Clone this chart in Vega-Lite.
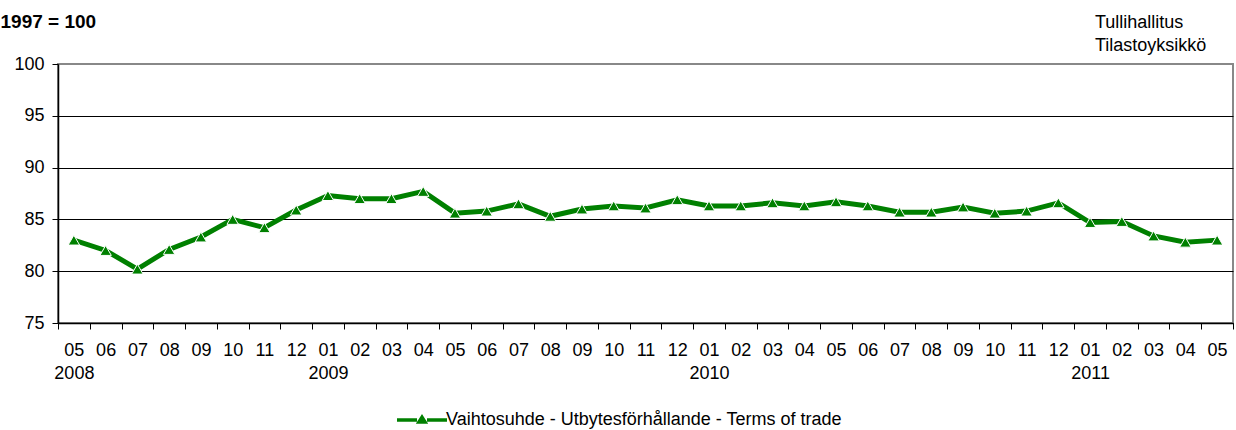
{
  "$schema": "https://vega.github.io/schema/vega-lite/v6.json",
  "width": 1175,
  "height": 259,
  "autosize": {"type": "none"},
  "padding": {"left": 58, "top": 64, "right": 3, "bottom": 107},
  "background": "white",
  "config": {
    "font": "Liberation Sans",
    "view": {"stroke": "#888888", "strokeWidth": 2}
  },
  "title": {
    "text": ["Tullihallitus", "Tilastoyksikkö"],
    "anchor": "end",
    "frame": "group",
    "align": "left",
    "baseline": "top",
    "dx": -138,
    "fontSize": 18,
    "fontWeight": "normal",
    "lineHeight": 23,
    "color": "#000000",
    "offset": 0,
    "dy": 43
  },
  "data": {
    "values": [
      {"month": "2008-05", "value": 83.0},
      {"month": "2008-06", "value": 82.0},
      {"month": "2008-07", "value": 80.2},
      {"month": "2008-08", "value": 82.1},
      {"month": "2008-09", "value": 83.3},
      {"month": "2008-10", "value": 85.0},
      {"month": "2008-11", "value": 84.2},
      {"month": "2008-12", "value": 85.9},
      {"month": "2009-01", "value": 87.3},
      {"month": "2009-02", "value": 87.0},
      {"month": "2009-03", "value": 87.0},
      {"month": "2009-04", "value": 87.7},
      {"month": "2009-05", "value": 85.6},
      {"month": "2009-06", "value": 85.8},
      {"month": "2009-07", "value": 86.5},
      {"month": "2009-08", "value": 85.3},
      {"month": "2009-09", "value": 86.0},
      {"month": "2009-10", "value": 86.3},
      {"month": "2009-11", "value": 86.1},
      {"month": "2009-12", "value": 86.9},
      {"month": "2010-01", "value": 86.3},
      {"month": "2010-02", "value": 86.3},
      {"month": "2010-03", "value": 86.6},
      {"month": "2010-04", "value": 86.3},
      {"month": "2010-05", "value": 86.7},
      {"month": "2010-06", "value": 86.3},
      {"month": "2010-07", "value": 85.7},
      {"month": "2010-08", "value": 85.7},
      {"month": "2010-09", "value": 86.2},
      {"month": "2010-10", "value": 85.6},
      {"month": "2010-11", "value": 85.8},
      {"month": "2010-12", "value": 86.6},
      {"month": "2011-01", "value": 84.7},
      {"month": "2011-02", "value": 84.8},
      {"month": "2011-03", "value": 83.4},
      {"month": "2011-04", "value": 82.8},
      {"month": "2011-05", "value": 83.0}
    ]
  },
  "encoding": {
    "x": {
      "field": "month",
      "type": "ordinal",
      "sort": null,
      "scale": {"type": "band", "paddingInner": 0, "paddingOuter": 0},
      "axis": {
        "title": null,
        "labelAngle": 0,
        "labelFontSize": 18,
        "labelColor": "#000000",
        "labelPadding": 12,
        "labelLineHeight": 23,
        "labelExpr": "isString(datum.value) ? ((datum.value == '2008-05' || substring(datum.value, 5, 7) == '01') ? [substring(datum.value, 5, 7), substring(datum.value, 0, 4)] : substring(datum.value, 5, 7)) : ''",
        "tickBand": "extent",
        "tickSize": 6,
        "tickColor": "#000000",
        "tickWidth": 1,
        "domainColor": "#000000",
        "domainWidth": 1.5,
        "grid": false
      }
    },
    "y": {
      "field": "value",
      "type": "quantitative",
      "scale": {"domain": [75, 100], "nice": false, "zero": false},
      "axis": {
        "values": [75, 80, 85, 90, 95, 100],
        "title": "1997 = 100",
        "titleAngle": 0,
        "titleAlign": "left",
        "titleBaseline": "alphabetic",
        "titleX": -58,
        "titleY": -37,
        "titleFontSize": 19,
        "titleFontWeight": "bold",
        "titleColor": "#000000",
        "labelFontSize": 18,
        "labelColor": "#000000",
        "labelPadding": 8,
        "tickSize": 6,
        "tickColor": "#000000",
        "domainColor": "#000000",
        "domainWidth": 1.5,
        "grid": true,
        "gridColor": {"condition": {"test": "datum.value == 100", "value": "#888888"}, "value": "#000000"},
        "gridWidth": 1
      }
    }
  },
  "layer": [
    {
      "mark": {"type": "line", "strokeWidth": 5},
      "encoding": {
        "color": {
          "datum": "Vaihtosuhde - Utbytesförhållande - Terms of trade",
          "type": "nominal",
          "scale": {"range": ["#008000"]},
          "legend": {
            "title": null,
            "orient": "none",
            "legendX": 337,
            "legendY": 329,
            "labelFontSize": 18,
            "labelColor": "#000000",
            "labelOffset": -3,
            "labelLimit": 0,
            "symbolType": "M-1,0H-0.2M0.2,0H1M-0.12,0.08L0,-0.11L0.12,0.08Z",
            "symbolSize": 2500,
            "symbolStrokeWidth": 3.5,
            "symbolFillColor": "#008000",
            "symbolStrokeColor": "#008000"
          }
        }
      }
    },
    {
      "mark": {"type": "point", "shape": "triangle-up", "size": 130, "filled": true, "color": "#008000", "stroke": "#ffffff", "strokeWidth": 1, "opacity": 1}
    }
  ]
}
